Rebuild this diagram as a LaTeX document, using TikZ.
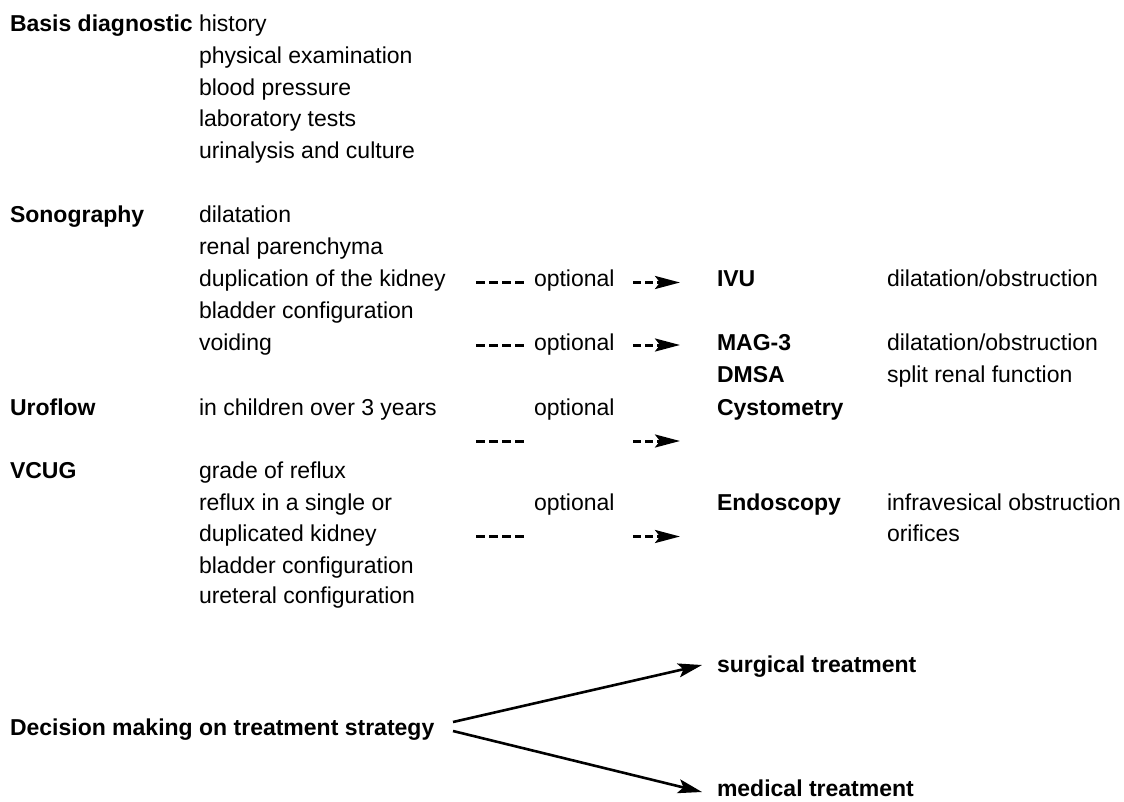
\documentclass[tikz,border=0pt]{standalone}
\usepackage{fontspec}
\setmainfont{Liberation Sans}
\usetikzlibrary{arrows.meta}
\tikzset{
  txt/.style={inner sep=0pt, outer sep=0pt, anchor=base west, font=\fontsize{23}{27}\selectfont},
  hd/.style={txt, font=\fontsize{23}{27}\selectfont\bfseries},
  dashseg/.style={line width=3pt, dash pattern=on 9pt off 4pt},
  dasharrow/.style={line width=3pt, dash pattern=on 8pt off 4pt, -{Stealth[length=25pt,width=13pt,inset=5pt]}},
  solidarrow/.style={line width=2.6pt, -{Stealth[length=24pt,width=14pt,inset=5pt]}}
}
\begin{document}
\begin{tikzpicture}[x=1pt,y=-1pt]
\useasboundingbox (0,0) rectangle (1124,802);
% Basis diagnostic
\node[hd] (basis) at (10,32) {Basis diagnostic};
\node[txt] (b1) at (199,32) {history};
\node[txt] (b2) at (199,64) {physical examination};
\node[txt] (b3) at (199,95.5) {blood pressure};
\node[txt] (b4) at (199,127) {laboratory tests};
\node[txt] (b5) at (199,158.5) {urinalysis and culture};
% Sonography
\node[hd] (sono) at (10,223) {Sonography};
\node[txt] (s1) at (199,223) {dilatation};
\node[txt] (s2) at (199,255) {renal parenchyma};
\node[txt] (s3) at (199,287) {duplication of the kidney};
\node[txt] (s4) at (199,318.5) {bladder configuration};
\node[txt] (s5) at (199,350) {voiding};
\node[txt] (opt1) at (534,287) {optional};
\node[txt] (opt2) at (534,350) {optional};
\node[hd] (ivu) at (717,287) {IVU};
\node[txt] (ivud) at (887,287) {dilatation/obstruction};
\node[hd] (mag) at (717,350) {MAG-3};
\node[txt] (magd) at (887,350) {dilatation/obstruction};
\node[hd] (dmsa) at (717,382) {DMSA};
\node[txt] (dmsad) at (887,382) {split renal function};
% Uroflow
\node[hd] (uro) at (10,415) {Uroflow};
\node[txt] (u1) at (199,415) {in children over 3 years};
\node[txt] (opt3) at (534,415) {optional};
\node[hd] (cysto) at (717,415) {Cystometry};
% VCUG
\node[hd] (vcug) at (10,478) {VCUG};
\node[txt] (v1) at (199,478) {grade of reflux};
\node[txt] (v2) at (199,510) {reflux in a single or};
\node[txt] (v3) at (199,541.5) {duplicated kidney};
\node[txt] (v4) at (199,573) {bladder configuration};
\node[txt] (v5) at (199,603) {ureteral configuration};
\node[txt] (opt4) at (534,510) {optional};
\node[hd] (endo) at (717,510) {Endoscopy};
\node[txt] (endo1) at (887,510) {infravesical obstruction};
\node[txt] (endo2) at (887,541.5) {orifices};
% Decision
\node[hd] (surg) at (717,672) {surgical treatment};
\node[hd] (dec) at (10,735) {Decision making on treatment strategy};
\node[hd] (med) at (717,796) {medical treatment};
% connector end points
\coordinate (d1a) at (476,282.5); \coordinate (d1b) at (525,282.5);
\coordinate (a1a) at (633,282.5); \coordinate (a1b) at (680,282.5);
\coordinate (d2a) at (476,345); \coordinate (d2b) at (525,345);
\coordinate (a2a) at (633,345); \coordinate (a2b) at (680,345);
\coordinate (d3a) at (476,441); \coordinate (d3b) at (525,441);
\coordinate (a3a) at (633,441); \coordinate (a3b) at (680,441);
\coordinate (d4a) at (476,536.5); \coordinate (d4b) at (525,536.5);
\coordinate (a4a) at (633,536.5); \coordinate (a4b) at (680,536.5);
\coordinate (decu) at (453,722); \coordinate (decl) at (453,731);
\coordinate (surgt) at (702,665); \coordinate (medt) at (702,792);
% connectors
\draw[dashseg] (d1a) -- (d1b);
\draw[dasharrow] (a1a) -- (a1b);
\draw[dashseg] (d2a) -- (d2b);
\draw[dasharrow] (a2a) -- (a2b);
\draw[dashseg] (d3a) -- (d3b);
\draw[dasharrow] (a3a) -- (a3b);
\draw[dashseg] (d4a) -- (d4b);
\draw[dasharrow] (a4a) -- (a4b);
\draw[solidarrow] (decu) -- (surgt);
\draw[solidarrow] (decl) -- (medt);
\end{tikzpicture}
\end{document}
